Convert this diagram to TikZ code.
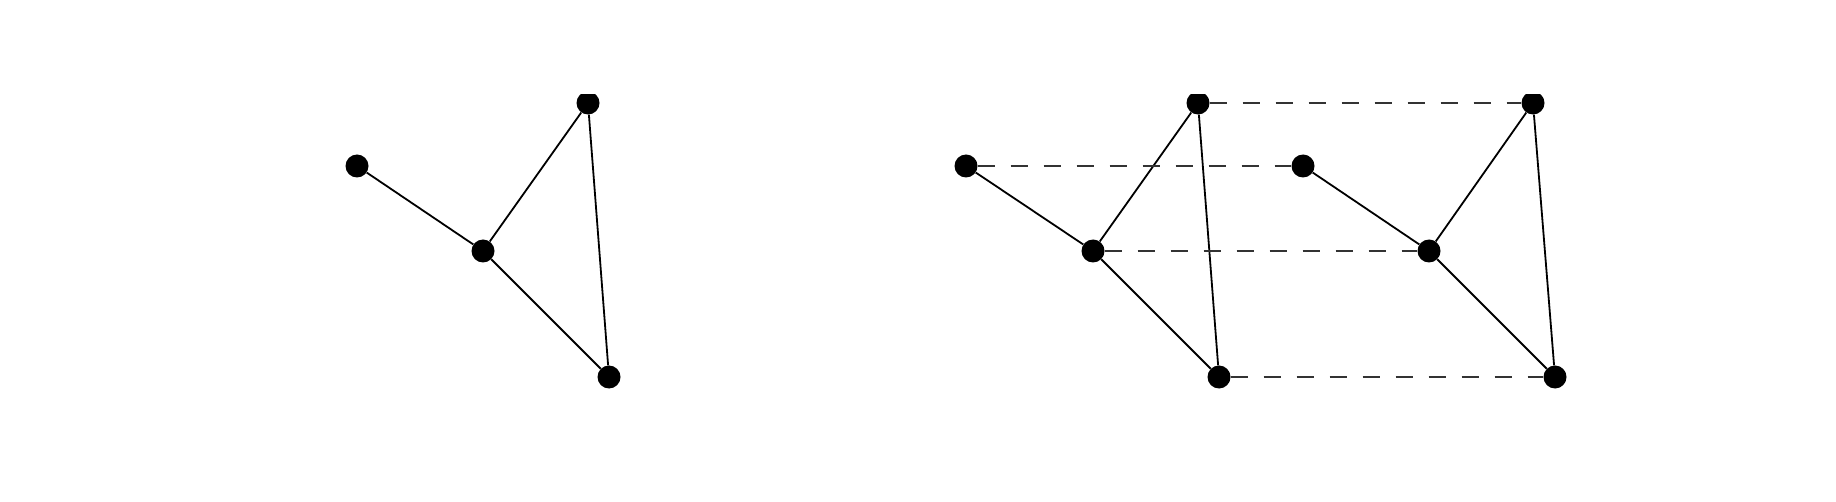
\documentclass[tikz,border=0pt]{standalone}
\begin{document}
\begin{tikzpicture}[x=1pt,y=-1pt,
  vtx/.style={circle,fill=black,inner sep=0pt,minimum size=23pt},
  edge/.style={line width=1.8pt,black},
  link/.style={line width=1.8pt,black!80,dash pattern=on 17pt off 16pt}]
\useasboundingbox (0,0) rectangle (1836,502);
\begin{scope}
\clip (0,95) rectangle (1836,502);
% left graph
\node[vtx] (a) at (357,166) {};
\node[vtx] (b) at (588,103) {};
\node[vtx] (c) at (483,251) {};
\node[vtx] (d) at (609,377) {};
\draw[edge] (a) -- (c) (c) -- (b) (b) -- (d) (c) -- (d);
% right pair
\node[vtx] (e) at (966,166) {};
\node[vtx] (f) at (1198,103) {};
\node[vtx] (g) at (1093,251) {};
\node[vtx] (h) at (1219,377) {};
\node[vtx] (e2) at (1303,166) {};
\node[vtx] (f2) at (1533,103) {};
\node[vtx] (g2) at (1429,251) {};
\node[vtx] (h2) at (1555,377) {};
\draw[edge] (e) -- (g) (g) -- (f) (f) -- (h) (g) -- (h);
\draw[edge] (e2) -- (g2) (g2) -- (f2) (f2) -- (h2) (g2) -- (h2);
\draw[link] (e) -- (e2);
\draw[link] (f) -- (f2);
\draw[link] (g) -- (g2);
\draw[link] (h) -- (h2);
\end{scope}
\end{tikzpicture}
\end{document}
